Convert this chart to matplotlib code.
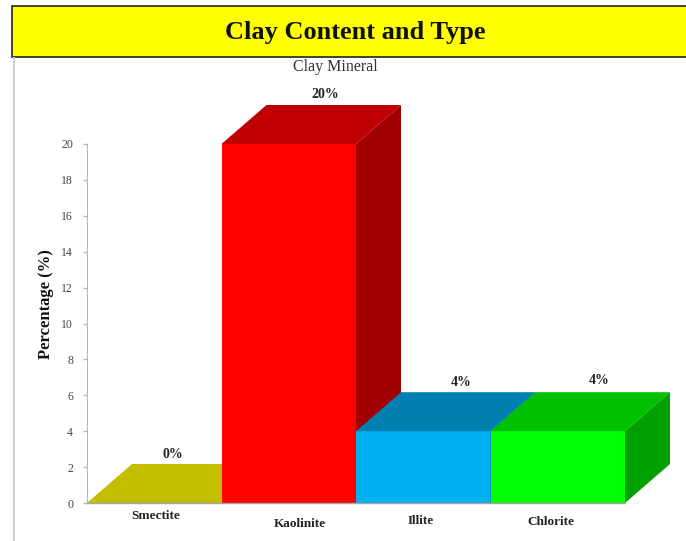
import matplotlib
matplotlib.use("Agg")
import matplotlib.pyplot as plt
from matplotlib.patches import Polygon, Rectangle

# Data
minerals = ["Smectite", "Kaolinite", "Illite", "Chlorite"]
values = [0, 20, 4, 4]
front_colors = ["#C4BD00", "#FF0000", "#00B0F0", "#00FF00"]
top_colors = ["#C4BD00", "#C00000", "#0080B0", "#00C000"]
side_colors = ["#A8A200", "#A00000", "#006F99", "#00A000"]
y_ticks = list(range(0, 21, 2))

W, H = 686, 541

plt.rcParams["font.family"] = ["Liberation Serif", "DejaVu Serif"]

fig = plt.figure(figsize=(W / 100, H / 100), dpi=100)

# axes placed in pixels: x 87..686, y 503..60
left, right, bottom, top = 87, 686, 503, 60
ax = fig.add_axes([left / W, 1 - bottom / H, (right - left) / W, (bottom - top) / H])
bar_px = 134.5
ax.set_xlim(0, (right - left) / bar_px)
ax.set_ylim(0, (bottom - top) / 17.95)
ax.patch.set_alpha(0)

# 3D depth of the bars, in data units
dx = 45 / bar_px
dy = 39 / 17.95

for i, v in enumerate(values):
    x0, x1 = i, i + 1
    ax.bar(x0, v, width=1, align="edge", color=front_colors[i], zorder=2 + i)
    ax.add_patch(Polygon([(x0, v), (x1, v), (x1 + dx, v + dy), (x0 + dx, v + dy)],
                         closed=True, color=top_colors[i], lw=0, zorder=2 + i))
    if v > 0:
        ax.add_patch(Polygon([(x1, 0), (x1 + dx, dy), (x1 + dx, v + dy), (x1, v)],
                             closed=True, color=side_colors[i], lw=0, zorder=2 + i))

# value labels, offset in pixels from the back edge of each bar
label_shift = [(19, 3), (36, 4), (38, 3), (41, 5)]
for i, v in enumerate(values):
    ax.annotate(f"{v}%", (i + 0.5, v + dy), xytext=(label_shift[i][0] * 0.72, label_shift[i][1] * 0.72),
                textcoords="offset points", ha="center", va="bottom",
                fontsize=10, fontweight="bold", color="#222222")

ax.set_yticks(y_ticks)
ax.set_yticklabels(y_ticks, fontsize=8.5, color="#444444")
ax.set_xticks([])
ax.tick_params(axis="y", length=3, width=1, color="#B8B8B8", pad=7)
for s in ["top", "right", "bottom"]:
    ax.spines[s].set_visible(False)
ax.spines["left"].set_color("#B8B8B8")
ax.spines["left"].set_bounds(0, 20)
ax.plot([0, 4], [0, 0], color="#A6A6A6", lw=1, zorder=20, clip_on=False)

# category labels sit at different heights in the original
cat_pos = [(156, 516), (300, 524), (421, 521), (551, 522)]
for name, (px, py) in zip(minerals, cat_pos):
    fig.text(px / W, 1 - py / H, name, ha="center", va="center",
             fontsize=9.5, fontweight="bold", color="#222222")

fig.text(46 / W, 1 - 304 / H, "Percentage (%)", rotation=90, ha="center", va="center",
         fontsize=12, fontweight="bold", color="#111111")
fig.text(335 / W, 1 - 67 / H, "Clay Mineral", ha="center", va="center",
         fontsize=11.5, color="#333333")

# yellow banner and grey left rule
fig.add_artist(Rectangle((12 / W, 1 - 57 / H), 680 / W, 51 / H, transform=fig.transFigure,
                         facecolor="#FFFF00", edgecolor="#222222", lw=1.2))
fig.add_artist(Rectangle((13 / W, 0), 2 / W, 1 - 57 / H, transform=fig.transFigure,
                         facecolor="#D0D0D0", edgecolor="none"))
fig.text(355 / W, 1 - 33 / H, "Clay Content and Type", ha="center", va="center",
         fontsize=19, fontweight="bold", color="#111111")

fig.savefig("out.png", dpi=100)
